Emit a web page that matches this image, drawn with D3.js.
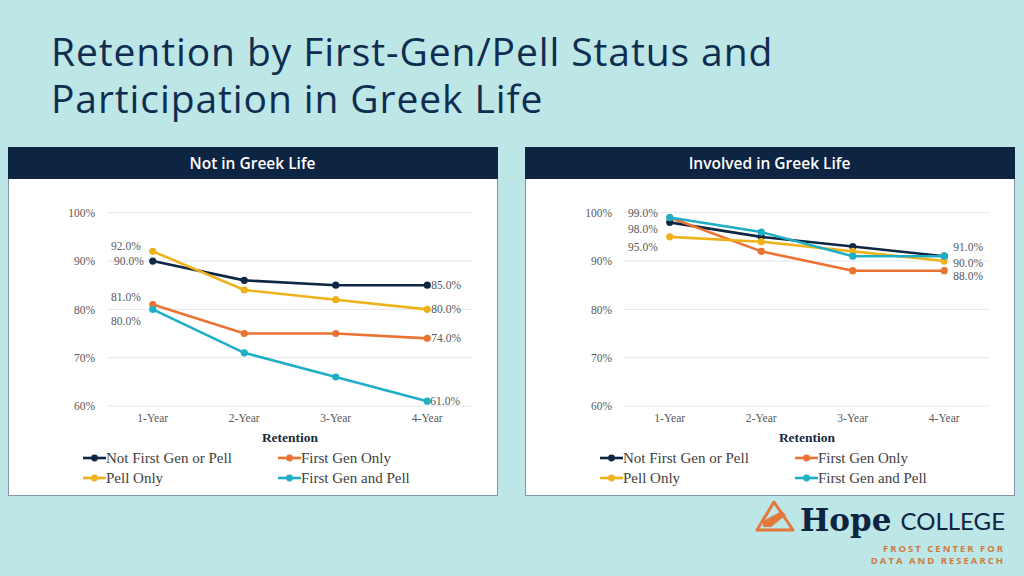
<!DOCTYPE html>
<html><head><meta charset="utf-8">
<script src="https://cdn.jsdelivr.net/npm/d3@7"></script>
<style>
html,body{margin:0;padding:0;background:#bde6e6;}
svg{display:block;}
</style></head>
<body>
<svg id="c" width="1024" height="576"></svg>
<script>
// ---------- DATA ----------
const categories = ["1-Year", "2-Year", "3-Year", "4-Year"];
const seriesNames = ["Not First Gen or Pell", "First Gen Only", "Pell Only", "First Gen and Pell"];
const yTicks = [60, 70, 80, 90, 100];
const panelTitles = ["Not in Greek Life", "Involved in Greek Life"];
const xAxisTitle = "Retention";

// Not in Greek Life
const notGreek_NotFGP = [90, 86, 85, 85];
const notGreek_FGOnly = [81, 75, 75, 74];
const notGreek_PellOnly = [92, 84, 82, 80];
const notGreek_FGPell = [80, 71, 66, 61];
// Involved in Greek Life
const greek_NotFGP = [98, 95, 93, 91];
const greek_FGOnly = [99, 92, 88, 88];
const greek_PellOnly = [95, 94, 92, 90];
const greek_FGPell = [99, 96, 91, 91];

// data labels: [seriesIndex, pointIndex]
const notGreekLabels = [[2,0],[0,0],[1,0],[3,0],[0,3],[2,3],[1,3],[3,3]];
const greekLabels = [[3,0],[0,0],[2,0],[3,3],[2,3],[1,3]];

// ---------- STYLE ----------
const colors = ["#0e2744", "#ec7232", "#efb21b", "#1eaec6"];
const serif = "'Liberation Serif','Times New Roman',serif";
const sans = "'Open Sans','Noto Sans',sans-serif";

const svg = d3.select("#c");

// Title
[["Retention by First-Gen/Pell Status and", 66], ["Participation in Greek Life", 113]].forEach(([t, yy]) => {
  svg.append("text").attr("x", 51).attr("y", yy).attr("fill", "#0f2d50")
    .style("font-family", "'Open Sans', sans-serif").style("font-size", "39px")
    .style("letter-spacing", "0.9px")
    .style("font-variant-ligatures", "none").text(t);
});

const panels = [
  {x: 8, title: panelTitles[0], series: [notGreek_NotFGP, notGreek_FGOnly, notGreek_PellOnly, notGreek_FGPell], labels: notGreekLabels,
   labelPos: {"2,0": [-12, -5, "end"], "0,0": [-9, 0, "end"], "1,0": [-12, -8, "end"], "3,0": [-12, 12, "end"],
              "0,3": [4, 0, "start"], "2,3": [4, 0, "start"], "1,3": [4, 0, "start"], "3,3": [3, 0, "start"]}},
  {x: 525, title: panelTitles[1], series: [greek_NotFGP, greek_FGOnly, greek_PellOnly, greek_FGPell], labels: greekLabels,
   labelPos: {"3,0": [-12, -5, "end"], "0,0": [-12, 7, "end"], "2,0": [-12, 10, "end"],
              "3,3": [9, -9, "start"], "2,3": [9, 2, "start"], "1,3": [9, 5, "start"]}}
];

const panelW = 489, panelTop = 147, headH = 32, panelBottom = 495;

panels.forEach(p => {
  const g = svg.append("g").attr("transform", `translate(${p.x},0)`);
  g.append("rect").attr("x", 0.5).attr("y", panelTop + 0.5).attr("width", panelW).attr("height", panelBottom - panelTop)
    .attr("fill", "#ffffff").attr("stroke", "#8495ad").attr("stroke-width", 1);
  g.append("rect").attr("x", 0).attr("y", panelTop).attr("width", panelW + 1).attr("height", headH).attr("fill", "#0e2443");
  g.append("text").attr("x", panelW / 2).attr("y", panelTop + headH / 2 + 5.5).attr("text-anchor", "middle")
    .attr("fill", "#ffffff").style("font-family", sans).style("font-weight", "600").style("font-size", "15.5px")
    .text(p.title);

  const x = d3.scaleBand().domain(categories).range([99, 465]);
  const y = d3.scaleLinear().domain([60, 100]).range([406, 212.7]);

  g.append("g").selectAll("line").data(yTicks).join("line")
    .attr("x1", 99).attr("x2", 465).attr("y1", d => y(d)).attr("y2", d => y(d))
    .attr("stroke", "#dfe7f2").attr("stroke-width", 1);

  const ya = g.append("g").attr("transform", "translate(87,0)")
    .call(d3.axisLeft(y).tickValues(yTicks).tickFormat(d => d + "%").tickSize(0).tickPadding(0));
  ya.select(".domain").remove();
  ya.selectAll("text").style("font-family", serif).style("font-size", "11.5px").attr("fill", "#595959");

  const xa = g.append("g").attr("transform", "translate(0,414)")
    .call(d3.axisBottom(x).tickSize(0).tickPadding(0));
  xa.select(".domain").remove();
  xa.selectAll("text").style("font-family", serif).style("font-size", "11.5px").attr("fill", "#595959");

  g.append("text").attr("x", 282).attr("y", 442).attr("text-anchor", "middle")
    .style("font-family", serif).style("font-weight", "700").style("font-size", "13.5px").attr("fill", "#1a2a40")
    .text(xAxisTitle);

  const line = d3.line().x((d, i) => x(categories[i]) + x.bandwidth() / 2).y(d => y(d));
  [0, 1, 2, 3].forEach(si => {
    const vals = p.series[si];
    g.append("path").datum(vals).attr("d", line).attr("fill", "none")
      .attr("stroke", colors[si]).attr("stroke-width", 2.6);
    g.append("g").selectAll("circle").data(vals).join("circle")
      .attr("cx", (d, i) => x(categories[i]) + x.bandwidth() / 2).attr("cy", d => y(d)).attr("r", 3.6)
      .attr("fill", colors[si]);
  });

  p.labels.forEach(([si, pi]) => {
    const v = p.series[si][pi];
    const pos = p.labelPos[si + "," + pi];
    g.append("text")
      .attr("x", x(categories[pi]) + x.bandwidth() / 2 + pos[0])
      .attr("y", y(v) + pos[1] + 4)
      .attr("text-anchor", pos[2])
      .style("font-family", serif).style("font-size", "11.5px").attr("fill", "#595959")
      .text(d3.format(".1f")(v) + "%");
  });

  const legPos = [[75, 458], [270, 458], [75, 478], [270, 478]];
  seriesNames.forEach((name, si) => {
    const [lx, ly] = legPos[si];
    const lg = g.append("g").attr("transform", `translate(${lx},${ly})`);
    lg.append("line").attr("x1", 0).attr("x2", 23).attr("y1", 0).attr("y2", 0)
      .attr("stroke", colors[si]).attr("stroke-width", 2.6);
    lg.append("circle").attr("cx", 11.5).attr("cy", 0).attr("r", 3.4).attr("fill", colors[si]);
    lg.append("text").attr("x", 23).attr("y", 5).style("font-family", serif).style("font-size", "15px")
      .attr("fill", "#404040").text(name);
  });
});

// Logo
const logo = svg.append("g");
logo.append("path").attr("d", "M774,502 L793,530 L757,530 Z").attr("fill", "none")
  .attr("stroke", "#e2783a").attr("stroke-width", 3).attr("stroke-linejoin", "round");
logo.append("path").attr("d", "M763,521 L782,511 L786,515 L771,527 L763,527 Z").attr("fill", "#e2783a");
logo.append("text").attr("x", 800).attr("y", 531).attr("fill", "#0e2443")
  .style("font-family", "'DejaVu Serif','Liberation Serif',serif").style("font-weight", "700").style("font-size", "31px")
  .text("Hope");
logo.append("text").attr("x", 1005).attr("y", 530).attr("text-anchor", "end").attr("fill", "#0e2443")
  .style("font-family", "Lato, 'Open Sans', sans-serif").style("font-size", "24px").text("COLLEGE");
logo.append("text").attr("x", 1005).attr("y", 552).attr("text-anchor", "end").attr("fill", "#d07a3e")
  .style("font-family", sans).style("font-weight", "700").style("font-size", "9.5px").style("letter-spacing", "2px")
  .text("FROST CENTER FOR");
logo.append("text").attr("x", 1005).attr("y", 564).attr("text-anchor", "end").attr("fill", "#d07a3e")
  .style("font-family", sans).style("font-weight", "700").style("font-size", "9.5px").style("letter-spacing", "2px")
  .text("DATA AND RESEARCH");
</script>
</body></html>
